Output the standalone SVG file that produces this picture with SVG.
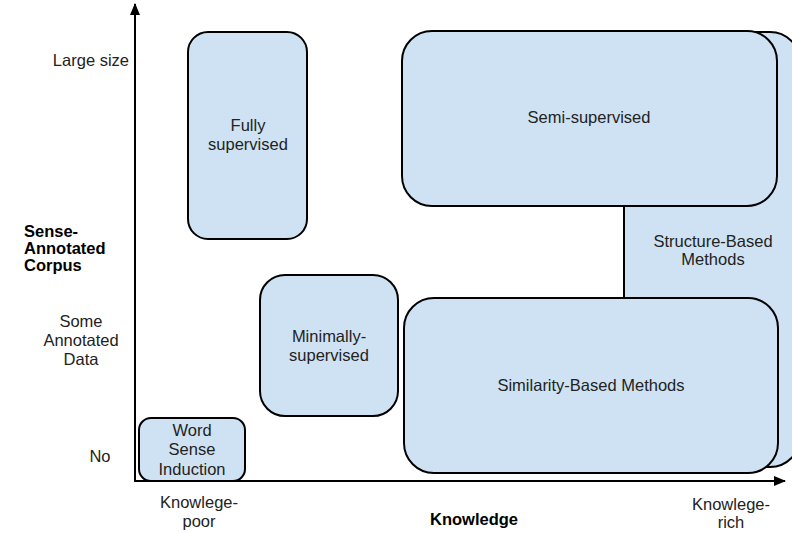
<svg xmlns="http://www.w3.org/2000/svg" width="792" height="533" viewBox="0 0 792 533">
<defs>
<style>
.box{fill:#cfe2f3;stroke:#000;stroke-width:2}
.t{font-family:"Liberation Sans",Arial,sans-serif;font-size:16.5px;fill:#222;text-anchor:middle}
.b{font-weight:bold;fill:#000}
.axis{stroke:#000;stroke-width:2;fill:none}
</style>
<marker id="ah" markerWidth="12" markerHeight="10" refX="11" refY="5" orient="auto" markerUnits="userSpaceOnUse">
<path d="M0,0 L12,5 L0,10 Z" fill="#000"/>
</marker>
</defs>
<rect width="792" height="533" fill="#fff"/>
<g id="structure-based">
<rect class="box" x="624" y="32" width="176" height="435" rx="30"/>
<text class="t" x="713" y="247">Structure-Based</text>
<text class="t" x="713" y="265">Methods</text>
</g>
<g id="semi-supervised">
<rect class="box" x="402" y="31" width="375" height="175" rx="30"/>
<text class="t" x="589" y="123">Semi-supervised</text>
</g>
<g id="similarity-based">
<rect class="box" x="404" y="298" width="374" height="175" rx="30"/>
<text class="t" x="591" y="391">Similarity-Based Methods</text>
</g>
<g id="fully-supervised">
<rect class="box" x="188" y="32" width="119" height="207" rx="20"/>
<text class="t" x="248" y="131">Fully</text>
<text class="t" x="248" y="150">supervised</text>
</g>
<g id="minimally-supervised">
<rect class="box" x="260" y="275" width="138" height="141" rx="25"/>
<text class="t" x="329" y="342">Minimally-</text>
<text class="t" x="329" y="361">supervised</text>
</g>
<g id="word-sense-induction">
<rect class="box" x="139" y="418" width="106" height="63" rx="12"/>
<text class="t" x="192" y="436">Word</text>
<text class="t" x="192" y="455">Sense</text>
<text class="t" x="192" y="475">Induction</text>
</g>
<g id="connectors">
<line class="axis" x1="135" y1="481" x2="135" y2="4" marker-end="url(#ah)"/>
<line class="axis" x1="134" y1="481" x2="785" y2="481" marker-end="url(#ah)"/>
</g>
<g id="labels">
<text class="t" x="129" y="66" style="text-anchor:end">Large size</text>
<text class="t b" x="24" y="237" style="text-anchor:start">Sense-</text>
<text class="t b" x="24" y="254" style="text-anchor:start">Annotated</text>
<text class="t b" x="24" y="271" style="text-anchor:start">Corpus</text>
<text class="t" x="81" y="327">Some</text>
<text class="t" x="81" y="346">Annotated</text>
<text class="t" x="81" y="365">Data</text>
<text class="t" x="100" y="462">No</text>
<text class="t" x="199" y="508">Knowlege-</text>
<text class="t" x="199" y="527">poor</text>
<text class="t b" x="474" y="525">Knowledge</text>
<text class="t" x="731" y="510">Knowlege-</text>
<text class="t" x="731" y="528">rich</text>
</g>
</svg>
